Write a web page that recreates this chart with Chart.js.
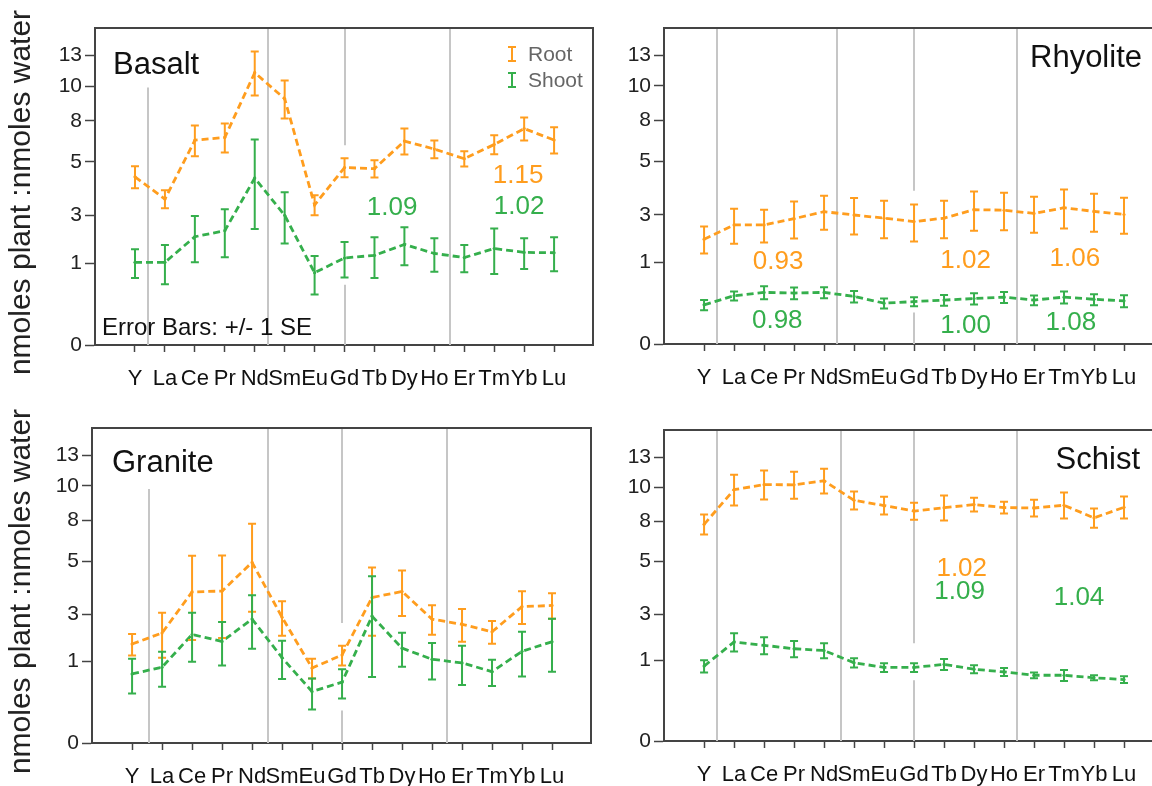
<!DOCTYPE html>
<html>
<head>
<meta charset="utf-8">
<script src="https://cdn.jsdelivr.net/npm/chart.js@4.4.1/dist/chart.umd.min.js"></script>
<style>
  html, body { margin: 0; padding: 0; background: #fff; width: 1152px; height: 786px; overflow: hidden; position: relative; }
  canvas { position: absolute; }
</style>
</head>
<body>
<canvas id="basalt" width="600" height="393" style="left:0;top:0"></canvas>
<canvas id="rhyolite" width="570" height="393" style="left:600px;top:0"></canvas>
<canvas id="granite" width="600" height="393" style="left:0;top:393px"></canvas>
<canvas id="schist" width="570" height="393" style="left:600px;top:393px"></canvas>
<script>
// categories and axis ticks
const elements = ["Y", "La", "Ce", "Pr", "Nd", "Sm", "Eu", "Gd", "Tb", "Dy", "Ho", "Er", "Tm", "Yb", "Lu"];
const yTickValues = [0, 1, 2.5, 5, 7.5, 10, 12.5]; // square-root axis
const yTickLabels = ["0", "1", "3", "5", "8", "10", "13"];

// Basalt
const basaltRoot    = [4.22, 3.18, 6.26, 6.43, 11.07, 9.05, 2.93, 4.70, 4.64, 6.21, 5.73, 5.18, 6.00, 6.99, 6.27];
const basaltRootSE  = [0.55, 0.39, 0.94, 0.90, 1.78, 1.39, 0.42, 0.50, 0.45, 0.79, 0.52, 0.42, 0.57, 0.74, 0.80];
const basaltShoot   = [1.02, 1.02, 1.75, 1.95, 4.16, 2.51, 0.78, 1.13, 1.20, 1.51, 1.25, 1.14, 1.39, 1.28, 1.27];
const basaltShootSE = [0.35, 0.47, 0.73, 0.80, 2.15, 0.97, 0.40, 0.45, 0.53, 0.56, 0.45, 0.35, 0.64, 0.42, 0.46];

// Rhyolite
const rhyoliteRoot    = [1.65, 2.13, 2.13, 2.36, 2.63, 2.50, 2.38, 2.25, 2.38, 2.71, 2.69, 2.56, 2.79, 2.64, 2.52];
const rhyoliteRootSE  = [0.42, 0.62, 0.58, 0.69, 0.67, 0.70, 0.70, 0.67, 0.70, 0.78, 0.75, 0.70, 0.79, 0.75, 0.69];
const rhyoliteShoot   = [0.23, 0.35, 0.40, 0.39, 0.40, 0.34, 0.25, 0.27, 0.29, 0.31, 0.33, 0.29, 0.33, 0.30, 0.28];
const rhyoliteShootSE = [0.06, 0.065, 0.10, 0.09, 0.085, 0.08, 0.06, 0.057, 0.07, 0.075, 0.076, 0.065, 0.084, 0.073, 0.077];

// Granite
const graniteRoot    = [1.48, 1.83, 3.45, 3.49, 4.93, 2.39, 0.85, 1.17, 3.20, 3.47, 2.32, 2.13, 1.87, 2.81, 2.86];
const graniteRootSE  = [0.32, 0.73, 1.85, 1.82, 2.33, 0.65, 0.22, 0.26, 1.46, 1.03, 0.55, 0.58, 0.38, 0.67, 0.53];
const graniteShoot   = [0.72, 0.87, 1.78, 1.56, 2.32, 1.10, 0.40, 0.56, 2.43, 1.36, 1.06, 0.97, 0.77, 1.27, 1.55];
const graniteShootSE = [0.35, 0.39, 0.78, 0.65, 0.98, 0.48, 0.23, 0.26, 1.77, 0.48, 0.45, 0.46, 0.28, 0.60, 0.78];

// Schist
const schistRoot    = [7.28, 9.80, 10.19, 10.18, 10.50, 8.98, 8.60, 8.20, 8.44, 8.67, 8.45, 8.42, 8.62, 7.72, 8.47];
const schistRootSE  = [0.67, 1.20, 1.15, 1.07, 1.00, 0.67, 0.65, 0.60, 0.90, 0.51, 0.43, 0.61, 0.95, 0.66, 0.80];
const schistShoot   = [0.87, 1.52, 1.42, 1.32, 1.27, 0.95, 0.84, 0.84, 0.91, 0.80, 0.74, 0.67, 0.67, 0.62, 0.585];
const schistShootSE = [0.14, 0.28, 0.25, 0.23, 0.21, 0.11, 0.10, 0.10, 0.13, 0.09, 0.085, 0.06, 0.11, 0.05, 0.065];

// ratio labels printed in the panels
const basaltRatios   = [["1.15", "root"], ["1.09", "shoot"], ["1.02", "shoot"]];
const rhyoliteRatios = [["0.93", "root"], ["0.98", "shoot"], ["1.02", "root"], ["1.00", "shoot"], ["1.06", "root"], ["1.08", "shoot"]];
const schistRatios   = [["1.02", "root"], ["1.09", "shoot"], ["1.04", "shoot"]];

const rootColor = "#FF9D1E";
const shootColor = "#35AF4C";
const axisColor = "#444";
const yMax = 15;

Chart.defaults.font.family = "'Liberation Sans', Arial, sans-serif";

function sq(v) { return Math.sqrt(Math.max(0, v)); }

function makePanel(id, root, rootSE, shoot, shootSE, cfg) {
  const series = [
    { mean: root, se: rootSE, color: rootColor },
    { mean: shoot, se: shootSE, color: shootColor }
  ];
  const line = (label, vals, color) => ({
    label: label,
    data: vals.map((v, i) => ({ x: i, y: sq(v) })),
    borderColor: color,
    backgroundColor: color,
    borderWidth: 2.8,
    borderDash: [7, 4],
    pointRadius: 1.6,
    pointBorderWidth: 0,
    fill: false,
    tension: 0
  });

  const panelPlugin = {
    id: "panel_" + id,
    beforeDatasetsDraw(chart) {
      const { ctx, scales: { x, y } } = chart;
      ctx.save();
      ctx.strokeStyle = "#c6c6c6";
      ctx.lineWidth = 2;
      cfg.dividers.forEach(([xi, y0, y1]) => {
        const px = Math.round(x.getPixelForValue(xi));
        ctx.beginPath();
        ctx.moveTo(px, y.getPixelForValue(sq(y0)));
        ctx.lineTo(px, y.getPixelForValue(sq(y1)));
        ctx.stroke();
      });
      ctx.restore();
    },
    afterDatasetsDraw(chart) {
      const { ctx, scales: { x, y } } = chart;
      ctx.save();
      ctx.lineWidth = 2;
      series.forEach(s => {
        ctx.strokeStyle = s.color;
        s.mean.forEach((m, i) => {
          const px = x.getPixelForValue(i);
          const top = y.getPixelForValue(sq(m + s.se[i]));
          const bot = y.getPixelForValue(sq(m - s.se[i]));
          ctx.beginPath();
          ctx.moveTo(px, top); ctx.lineTo(px, bot);
          ctx.moveTo(px - 4, top); ctx.lineTo(px + 4, top);
          ctx.moveTo(px - 4, bot); ctx.lineTo(px + 4, bot);
          ctx.stroke();
        });
      });
      ctx.restore();
    },
    afterDraw(chart) {
      const { ctx, chartArea: a, scales: { x, y } } = chart;
      ctx.save();
      // frame
      ctx.strokeStyle = axisColor;
      ctx.lineWidth = 2;
      ctx.beginPath();
      ctx.moveTo(a.left, a.top); ctx.lineTo(a.right, a.top); ctx.lineTo(a.right, a.bottom);
      ctx.stroke();

      ctx.textBaseline = "middle";
      // panel name
      ctx.fillStyle = "#111";
      ctx.font = "31px 'Liberation Sans', Arial, sans-serif";
      if (cfg.titleRight) {
        ctx.textAlign = "right";
        ctx.fillText(cfg.title, a.right - cfg.titleDX, a.top + cfg.titleDY);
      } else {
        ctx.textAlign = "left";
        ctx.fillText(cfg.title, a.left + cfg.titleDX, a.top + cfg.titleDY);
      }

      // ratio numbers
      ctx.textAlign = "center";
      ctx.font = "26px 'Liberation Sans', Arial, sans-serif";
      (cfg.ratios || []).forEach(([txt, which], k) => {
        const [xi, yv] = cfg.ratioPos[k];
        ctx.fillStyle = which === "root" ? rootColor : shootColor;
        ctx.fillText(txt, x.getPixelForValue(xi), y.getPixelForValue(sq(yv)));
      });

      // y axis title
      if (cfg.yTitle) {
        ctx.save();
        ctx.translate(22, (a.top + a.bottom) / 2 + 6);
        ctx.rotate(-Math.PI / 2);
        ctx.fillStyle = "#222";
        ctx.font = "30px 'Liberation Sans', Arial, sans-serif";
        ctx.textAlign = "center";
        ctx.fillText("nmoles plant :nmoles water", 0, 0);
        ctx.restore();
      }

      // legend
      if (cfg.legend) {
        ctx.font = "21px 'Liberation Sans', Arial, sans-serif";
        ctx.textAlign = "left";
        [["Root", rootColor, 26], ["Shoot", shootColor, 52]].forEach(([lab, col, dy]) => {
          const bx = a.right - 81, by = a.top + dy;
          ctx.strokeStyle = col;
          ctx.lineWidth = 2;
          ctx.beginPath();
          ctx.moveTo(bx, by - 7); ctx.lineTo(bx, by + 7);
          ctx.moveTo(bx - 4, by - 7); ctx.lineTo(bx + 4, by - 7);
          ctx.moveTo(bx - 4, by + 7); ctx.lineTo(bx + 4, by + 7);
          ctx.stroke();
          ctx.fillStyle = "#666";
          ctx.fillText(lab, a.right - 65, by + 1);
        });
      }

      if (cfg.errorNote) {
        ctx.fillStyle = "#111";
        ctx.font = "24px 'Liberation Sans', Arial, sans-serif";
        ctx.textAlign = "left";
        ctx.fillText("Error Bars: +/- 1 SE", a.left + 7, a.bottom - 17);
      }
      ctx.restore();
    }
  };

  return new Chart(document.getElementById(id), {
    type: "line",
    data: {
      datasets: [line("Root", root, rootColor), line("Shoot", shoot, shootColor)]
    },
    options: {
      responsive: false,
      animation: false,
      layout: { padding: { top: cfg.padTop, right: cfg.padRight, left: 0, bottom: 0 } },
      plugins: { legend: { display: false }, tooltip: { enabled: false } },
      scales: {
        x: {
          type: "linear",
          min: -1.336,
          max: 15.3,
          afterBuildTicks: axis => { axis.ticks = elements.map((e, i) => ({ value: i })); },
          afterFit: axis => { axis.height = cfg.xHeight; },
          ticks: {
            autoSkip: false,
            maxRotation: 0,
            padding: 14,
            color: "#111",
            font: { size: 22 },
            callback: (v, i) => elements[i]
          },
          grid: { drawOnChartArea: false, tickLength: 7, tickColor: axisColor, tickWidth: 1.5 },
          border: { color: axisColor, width: 2 }
        },
        y: {
          type: "linear",
          min: 0,
          max: sq(yMax),
          afterBuildTicks: axis => { axis.ticks = yTickValues.map(v => ({ value: sq(v) })); },
          afterFit: axis => { axis.width = cfg.yWidth; },
          ticks: {
            autoSkip: false,
            padding: 3,
            color: "#222",
            font: { size: 21 },
            callback: (v, i) => yTickLabels[i]
          },
          grid: { drawOnChartArea: false, tickLength: 10, tickColor: axisColor, tickWidth: 1.5 },
          border: { color: axisColor, width: 2 }
        }
      }
    },
    plugins: [panelPlugin]
  });
}

makePanel("basalt", basaltRoot, basaltRootSE, basaltShoot, basaltShootSE, {
  padTop: 28, padRight: 7, yWidth: 95, xHeight: 48,
  title: "Basalt", titleDX: 18, titleDY: 37,
  yTitle: true, legend: true, errorNote: true,
  dividers: [[0.43, 0, 9.9], [4.44, 0, yMax], [7, 5.95, yMax], [7, 0, 0.54], [10.52, 0, yMax]],
  ratios: basaltRatios,
  ratioPos: [[12.8, 4.25], [8.59, 2.79], [12.83, 2.87]]
});

makePanel("rhyolite", rhyoliteRoot, rhyoliteRootSE, rhyoliteShoot, rhyoliteShootSE, {
  padTop: 28, padRight: 7, yWidth: 64, xHeight: 49,
  title: "Rhyolite", titleRight: true, titleDX: 21, titleDY: 30,
  dividers: [[0.43, 0, yMax], [4.43, 0, yMax], [7, 3.53, yMax], [7, 0, 0.15], [10.42, 0, yMax]],
  ratios: rhyoliteRatios,
  ratioPos: [[2.47, 1.02], [2.44, 0.079], [8.72, 1.05], [8.72, 0.048], [12.36, 1.1], [12.23, 0.066]]
});

makePanel("granite", graniteRoot, graniteRootSE, graniteShoot, graniteShootSE, {
  padTop: 35, padRight: 9, yWidth: 92, xHeight: 43,
  title: "Granite", titleDX: 20, titleDY: 35,
  yTitle: true,
  dividers: [[0.57, 0, 9.75], [4.54, 0, yMax], [7, 2.18, yMax], [7, 0, 0.16], [10.49, 0, yMax]]
});

makePanel("schist", schistRoot, schistRootSE, schistShoot, schistShootSE, {
  padTop: 37, padRight: 7, yWidth: 64, xHeight: 45,
  title: "Schist", titleRight: true, titleDX: 23, titleDY: 30,
  dividers: [[0.43, 0, yMax], [4.58, 0, yMax], [7, 1.48, yMax], [7, 0, 0.57], [10.42, 0, yMax]],
  ratios: schistRatios,
  ratioPos: [[8.59, 4.62], [8.52, 3.43], [12.5, 3.16]]
});
</script>
</body>
</html>
